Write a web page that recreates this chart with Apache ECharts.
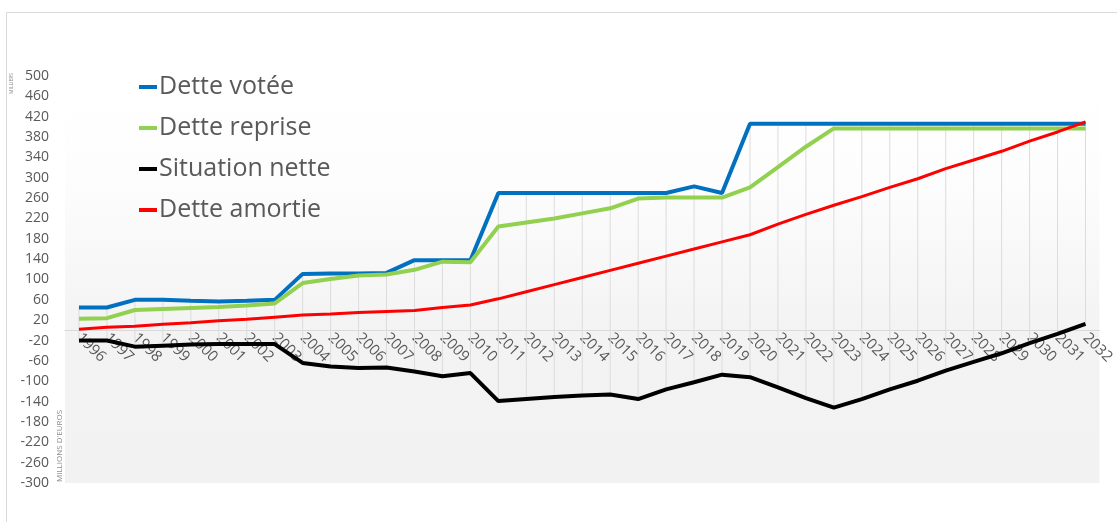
<!DOCTYPE html>
<html>
<head>
<meta charset="utf-8">
<script src="https://cdn.jsdelivr.net/npm/echarts@6/dist/echarts.min.js"></script>
<style>
html,body{margin:0;padding:0;background:#fff;}
#chart{width:1117px;height:522px;}
</style>
</head>
<body>
<div id="chart"></div>
<script>
const years = ['1996','1997','1998','1999','2000','2001','2002','2003','2004','2005','2006','2007','2008','2009','2010','2011','2012','2013','2014','2015','2016','2017','2018','2019','2020','2021','2022','2023','2024','2025','2026','2027','2028','2029','2030','2031','2032'];
const detteVotee = [45,45,60,60,58,57,58,60,111,112,112,113,138,138,138,270,270,270,270,270,270,270,283,270,406,406,406,406,406,406,406,406,406,406,406,406,406];
const detteReprise = [23,24,40,42,44,46,49,53,93,101,108,110,119,135,134,204,212,220,230,240,259,261,261,261,281,321,361,397,397,397,397,397,397,397,397,397,397];
const situationNette = [-20,-20,-32,-30,-28,-27,-27,-27,-64,-71,-74,-73,-81,-90,-84,-139,-135,-131,-128,-126,-135,-116,-102,-87,-92,-112,-133,-152,-135,-116,-99,-79,-62,-45,-25,-7,13];
const detteAmortie = [2,6,8,12,15,19,22,26,30,32,35,37,39,45,50,62,76,90,104,118,132,146,160,174,188,209,228,246,263,281,298,318,335,352,372,390,410];
const yTicks = {min: -300, max: 500, step: 40};

const gridTop = 76, gridBottom = 39, chartH = 522;
const gridH = chartH - gridTop - gridBottom;
const zeroOffset = -gridH * (0 - yTicks.min) / (yTicks.max - yTicks.min);

const chart = echarts.init(document.getElementById('chart'));
const allSeries = [detteVotee, detteReprise, situationNette, detteAmortie];
const hiLo = years.map((y, i) => {
  const vals = allSeries.map(s => s[i]);
  return [i, Math.max.apply(null, vals), Math.min.apply(null, vals)];
});
const lineCommon = {type: 'line', symbol: 'none', smooth: false, z: 3};
const option = {
  animation: false,
  textStyle: {fontFamily: 'Open Sans'},
  graphic: [
    {type: 'rect', shape: {x: 6.5, y: 12.5, width: 1300, height: 700}, style: {fill: 'none', stroke: '#d9d9d9', lineWidth: 1}, z: -10},
    {type: 'text', x: 9, y: 94, rotation: Math.PI / 2, style: {text: 'MILLIERS', fill: '#8c8c8c', font: '5px "Open Sans"'}},
    {type: 'text', x: 56, y: 482, rotation: Math.PI / 2, style: {text: "MILLIONS D'EUROS", fill: '#8c8c8c', font: '8px "Open Sans"'}}
  ],
  grid: {
    left: 65, right: 4, top: gridTop, bottom: gridBottom,
    show: true, borderWidth: 0,
    backgroundColor: new echarts.graphic.LinearGradient(0, 0, 0, 1, [
      {offset: 0, color: '#ffffff'},
      {offset: 0.25, color: '#fdfdfd'},
      {offset: 0.63, color: '#f3f3f3'},
      {offset: 1, color: '#f2f2f2'}
    ])
  },
  legend: {
    orient: 'vertical', left: 134, top: 69,
    itemWidth: 18, itemHeight: 4, itemGap: 15,
    icon: 'rect',
    textStyle: {fontSize: 25, color: '#595959', fontFamily: 'Open Sans', lineHeight: 26, padding: [0, 0, 0, -3]},
    data: ['Dette votée', 'Dette reprise', 'Situation nette', 'Dette amortie']
  },
  xAxis: {
    type: 'category', data: years, boundaryGap: true, z: 0,
    offset: zeroOffset,
    axisLine: {onZero: false, lineStyle: {color: '#d9d9d9', width: 1}},
    axisTick: {show: false},
    axisLabel: {rotate: -45, color: '#595959', fontSize: 15, margin: 5, interval: 0},
    splitLine: {show: false}
  },
  yAxis: {
    type: 'value', min: yTicks.min, max: yTicks.max, interval: yTicks.step,
    axisLine: {show: false}, axisTick: {show: false}, splitLine: {show: false},
    axisLabel: {color: '#595959', fontSize: 14, margin: 16}
  },
  series: [
    {
      type: 'custom', name: 'hilo', silent: true, z: 1,
      data: hiLo,
      renderItem: function (params, api) {
        const p1 = api.coord([api.value(0), api.value(1)]);
        const p2 = api.coord([api.value(0), api.value(2)]);
        return {type: 'line', shape: {x1: p1[0], y1: p1[1], x2: p2[0], y2: p2[1]}, style: {stroke: '#dcdcdc', lineWidth: 1}};
      }
    },
    Object.assign({}, lineCommon, {name: 'Dette votée', data: detteVotee, color: '#0070C0', lineStyle: {width: 4, color: '#0070C0'}}),
    Object.assign({}, lineCommon, {name: 'Dette reprise', data: detteReprise, color: '#92D050', lineStyle: {width: 4, color: '#92D050'}}),
    Object.assign({}, lineCommon, {name: 'Situation nette', data: situationNette, color: '#000000', lineStyle: {width: 4, color: '#000000'}}),
    Object.assign({}, lineCommon, {name: 'Dette amortie', data: detteAmortie, color: '#FF0000', lineStyle: {width: 3, color: '#FF0000'}})
  ]
};
chart.setOption(option);
</script>
</body>
</html>
